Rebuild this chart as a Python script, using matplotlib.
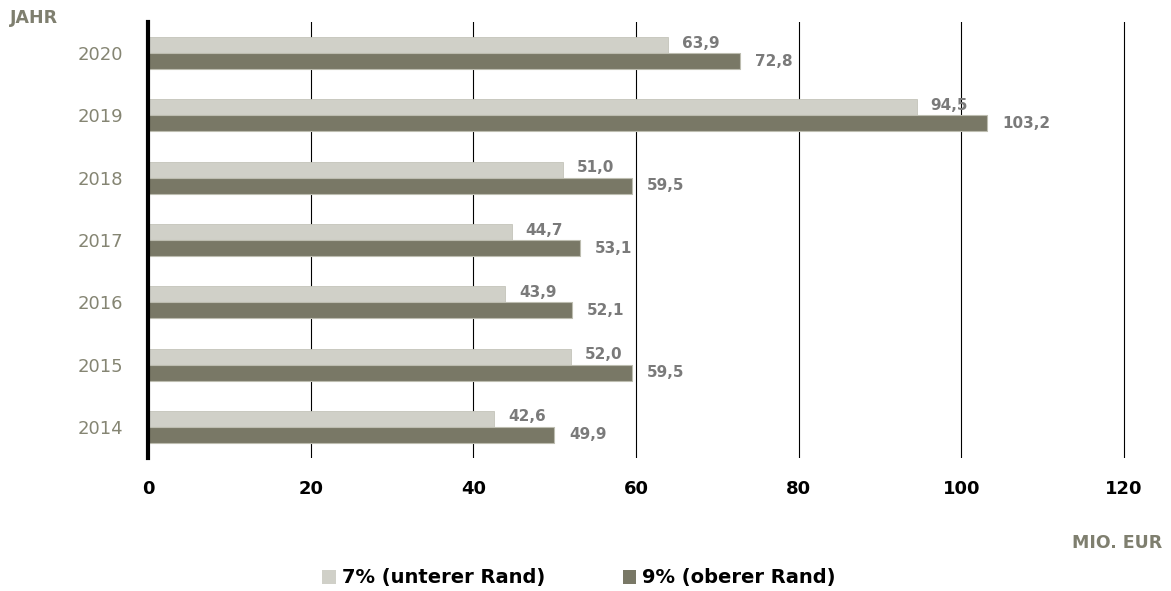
import matplotlib
matplotlib.use("Agg")
import matplotlib.pyplot as plt
from matplotlib.patches import Patch
import numpy as np

years = ["2020", "2019", "2018", "2017", "2016", "2015", "2014"]
lower_7 = [63.9, 94.5, 51.0, 44.7, 43.9, 52.0, 42.6]
upper_9 = [72.8, 103.2, 59.5, 53.1, 52.1, 59.5, 49.9]
x_ticks = [0, 20, 40, 60, 80, 100, 120]
series_names = ["7% (unterer Rand)", "9% (oberer Rand)"]

light = "#D0D0C8"
dark = "#797866"
label_grey = "#7A7A7A"
title_grey = "#7F7F6F"

plt.rcParams["font.family"] = ["DejaVu Sans"]

fig = plt.figure(figsize=(11.71, 5.91), dpi=100)
x_max = 122
px_per_unit = (1124 - 148) / 120
ax = fig.add_axes([148 / 1171, 1 - 458 / 591, x_max * px_per_unit / 1171, (458 - 22) / 591])

pos = np.arange(len(years))
h = 0.258
ax.barh(pos - h / 2, lower_7, height=h, color=light, edgecolor="#C4C4BA", linewidth=0.6, zorder=2)
ax.barh(pos + h / 2, upper_9, height=h, color=dark, edgecolor="#BDBDB0", linewidth=0.8, zorder=2)

for p, v in zip(pos, lower_7):
    ax.annotate(f"{v:.1f}".replace(".", ","), (v, p - h / 2 - 0.03), xytext=(10, 0),
                textcoords="offset points", va="center", ha="left",
                fontsize=11, fontweight="bold", color=label_grey, zorder=3)
for p, v in zip(pos, upper_9):
    ax.annotate(f"{v:.1f}".replace(".", ","), (v, p + h / 2), xytext=(11, 0),
                textcoords="offset points", va="center", ha="left",
                fontsize=11, fontweight="bold", color=label_grey, zorder=3)

ax.set_xlim(0, x_max)
ax.set_ylim(len(years) - 0.5, -0.5)
ax.set_yticks(pos)
ax.set_yticklabels(years, fontsize=13, color="#858573")
ax.set_xticks(x_ticks)
ax.set_xticklabels([str(t) for t in x_ticks], fontsize=13, fontweight="bold", color="black")
ax.tick_params(axis="y", length=0, pad=18)
ax.tick_params(axis="x", length=0, pad=16)

ax.grid(axis="x", color="black", linewidth=0.8, zorder=1)
ax.set_axisbelow(True)
for s in ["top", "right", "bottom"]:
    ax.spines[s].set_visible(False)
ax.spines["left"].set_linewidth(3)
ax.spines["left"].set_color("black")
ax.spines["left"].set_zorder(4)

fig.text(10 / 1171, 1 - 18 / 591, "JAHR", fontsize=12.5, fontweight="bold",
         color=title_grey, ha="left", va="center")
fig.text(1162 / 1171, 1 - 543 / 591, "MIO. EUR", fontsize=12.5, fontweight="bold",
         color=title_grey, ha="right", va="center")

handles = [Patch(facecolor=light), Patch(facecolor=dark)]
fig.legend(handles, series_names, loc="center", bbox_to_anchor=(579 / 1171, 1 - 578 / 591),
           ncol=2, frameon=False, handlelength=0.7, handleheight=0.7,
           handletextpad=0.3, columnspacing=4.0,
           prop={"size": 14, "weight": "bold"})

fig.savefig("out.png", dpi=100)
